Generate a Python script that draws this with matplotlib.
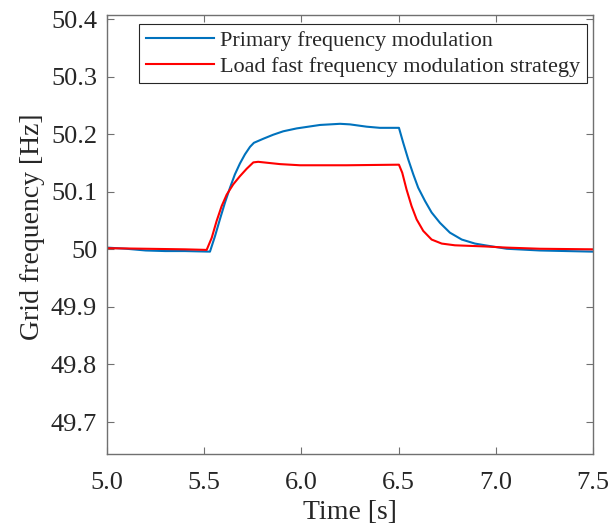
import matplotlib
matplotlib.use("Agg")
import matplotlib.pyplot as plt

# ---- data ----
t_primary = [5.0, 5.1, 5.2, 5.3, 5.4, 5.530, 5.556, 5.581, 5.607, 5.633, 5.658, 5.684, 5.710,
             5.736, 5.756, 5.804, 5.855, 5.907, 5.976, 6.096, 6.199, 6.25, 6.336, 6.404,
             6.502, 6.524, 6.550, 6.576, 6.601, 6.636, 6.670, 6.713, 6.764, 6.825, 6.893,
             6.945, 7.056, 7.227, 7.5]
f_primary = [50.003, 50.001, 49.998, 49.997, 49.997, 49.996, 50.023, 50.052, 50.081, 50.107,
             50.130, 50.149, 50.165, 50.178, 50.185, 50.192, 50.199, 50.205, 50.210, 50.216,
             50.218, 50.217, 50.213, 50.211, 50.211, 50.185, 50.156, 50.130, 50.107, 50.084,
             50.064, 50.046, 50.029, 50.017, 50.010, 50.007, 50.001, 49.998, 49.996]

t_load = [5.0, 5.2, 5.4, 5.513, 5.539, 5.564, 5.590, 5.616, 5.650, 5.684, 5.719, 5.753, 5.778,
          5.890, 5.993, 6.233, 6.502, 6.519, 6.541, 6.567, 6.593, 6.627, 6.670, 6.722,
          6.790, 6.945, 7.056, 7.227, 7.5]
f_load = [50.002, 50.001, 50.000, 49.999, 50.020, 50.049, 50.075, 50.095, 50.113, 50.127,
          50.140, 50.151, 50.152, 50.148, 50.146, 50.146, 50.147, 50.133, 50.104, 50.075,
          50.052, 50.032, 50.017, 50.010, 50.007, 50.005, 50.003, 50.001, 50.000]

labels = ["Primary frequency modulation", "Load fast frequency modulation strategy"]
x_ticks = [5.0, 5.5, 6.0, 6.5, 7.0, 7.5]
x_ticklabels = ["5.0", "5.5", "6.0", "6.5", "7.0", "7.5"]
y_ticks = [49.7, 49.8, 49.9, 50.0, 50.1, 50.2, 50.3, 50.4]
y_ticklabels = ["49.7", "49.8", "49.9", "50", "50.1", "50.2", "50.3", "50.4"]

plt.rcParams['font.family'] = ['Liberation Serif', 'DejaVu Serif']

fig = plt.figure(figsize=(6.11, 5.31), dpi=100)
ax = fig.add_axes([0.175, 0.1444, 0.7955, 0.8274])

ax.plot(t_primary, f_primary, color='#0072BD', lw=1.5, label=labels[0])
ax.plot(t_load, f_load, color='#FF0000', lw=1.5, label=labels[1])

ax.set_xlim(5.0, 7.5)
ax.set_ylim(49.644, 50.407)
ax.set_xticks(x_ticks)
ax.set_xticklabels(x_ticklabels)
ax.set_yticks(y_ticks)
ax.set_yticklabels(y_ticklabels)

spine_col = '#707070'
for s in ax.spines.values():
    s.set_color(spine_col)
    s.set_linewidth(1.0)
ax.tick_params(direction='in', top=True, right=True, length=5, width=0.8,
               color=spine_col, labelsize=19, labelcolor='#262626')
ax.tick_params(axis='x', pad=13)
ax.tick_params(axis='y', pad=7)
ax.set_xlabel("Time [s]", fontsize=20, color='#262626', labelpad=4)
ax.set_ylabel("Grid frequency [Hz]", fontsize=20, color='#262626')
ax.yaxis.set_label_coords(-0.128, 0.517)

leg = ax.legend(loc='upper right', bbox_to_anchor=(0.9883, 0.9795), fontsize=16,
                frameon=True, fancybox=False, edgecolor='#262626', framealpha=1,
                handlelength=3.05, handletextpad=0.3, borderpad=0.3, labelspacing=0.22,
                borderaxespad=0.0)
leg.get_frame().set_linewidth(0.8)
for txt in leg.get_texts():
    txt.set_color('#262626')

fig.savefig("out.png", dpi=100)
